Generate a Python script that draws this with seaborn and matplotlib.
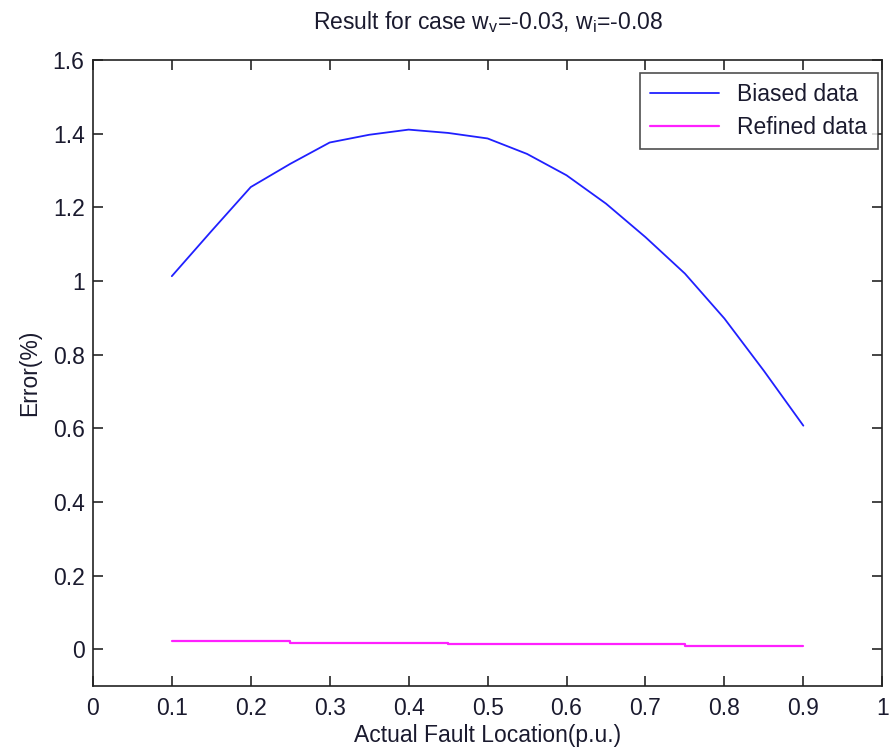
import numpy as np
import pandas as pd
import matplotlib
matplotlib.use("Agg")
import matplotlib.pyplot as plt
import seaborn as sns

# values
biasedX = [0.1, 0.15, 0.2, 0.25, 0.3, 0.35, 0.4, 0.45, 0.5, 0.55, 0.6, 0.65, 0.7, 0.75, 0.8, 0.85, 0.9]
biasedY = [1.013, 1.135, 1.255, 1.318, 1.376, 1.397, 1.411, 1.402, 1.387, 1.345, 1.287, 1.21, 1.119, 1.02, 0.898, 0.756, 0.607]
refinedX = [0.1, 0.25, 0.45, 0.75, 0.9]
refinedY = [0.023, 0.018, 0.013, 0.008, 0.008]
xTicks = [0, 0.1, 0.2, 0.3, 0.4, 0.5, 0.6, 0.7, 0.8, 0.9, 1]
xTickLabels = ["0", "0.1", "0.2", "0.3", "0.4", "0.5", "0.6", "0.7", "0.8", "0.9", "1"]
yTicks = [0, 0.2, 0.4, 0.6, 0.8, 1.0, 1.2, 1.4, 1.6]
yTickLabels = ["0", "0.2", "0.4", "0.6", "0.8", "1", "1.2", "1.4", "1.6"]

sns.set_style("ticks")
plt.rcParams['font.family'] = ['Liberation Sans', 'DejaVu Sans']
plt.rcParams['mathtext.fontset'] = 'custom'
plt.rcParams['mathtext.rm'] = 'Liberation Sans'

fontSize = 16.5

biasedDf = pd.DataFrame({"x": biasedX, "y": biasedY})
refinedDf = pd.DataFrame({"x": refinedX, "y": refinedY})

fig = plt.figure(figsize=(8.93, 7.56), dpi=100)
ax = fig.add_axes([0.104, 0.0926, 0.884, 0.828])

sns.lineplot(data=biasedDf, x="x", y="y", ax=ax, color="#2020ff", linewidth=1.3, label="Biased data")
sns.lineplot(data=refinedDf, x="x", y="y", ax=ax, color="#ff20ff", linewidth=1.6,
             drawstyle="steps-post", label="Refined data")

ax.set_xlim(0, 1)
ax.set_ylim(-0.1, 1.6)
ax.set_xticks(xTicks)
ax.set_xticklabels(xTickLabels)
ax.set_yticks(yTicks)
ax.set_yticklabels(yTickLabels)
ax.tick_params(direction="in", top=True, right=True, length=7, width=1.2,
               labelsize=fontSize, pad=6, labelcolor="#1a1a2e")
ax.tick_params(axis="x", pad=8)
for s in ax.spines.values():
    s.set_visible(True)
    s.set_linewidth(1.2)
    s.set_color("#222222")

ax.set_xlabel("Actual Fault Location(p.u.)", fontsize=fontSize, labelpad=3, color="#1a1a2e")
ax.set_ylabel("Error(%)", fontsize=fontSize, labelpad=8, color="#1a1a2e")
ax.set_title(r"Result for case w$_\mathrm{v}$=-0.03, w$_\mathrm{i}$=-0.08",
             fontsize=fontSize, pad=22, color="#1a1a2e")

leg = ax.legend(loc="upper right", bbox_to_anchor=(0.994, 0.979), fontsize=fontSize,
                frameon=True, fancybox=False, edgecolor="#222222", handlelength=3.0,
                borderaxespad=0, labelspacing=0.4, borderpad=0.45)
leg.get_frame().set_linewidth(1.2)
for t in leg.get_texts():
    t.set_color("#1a1a2e")

fig.savefig("out.png", dpi=100)
